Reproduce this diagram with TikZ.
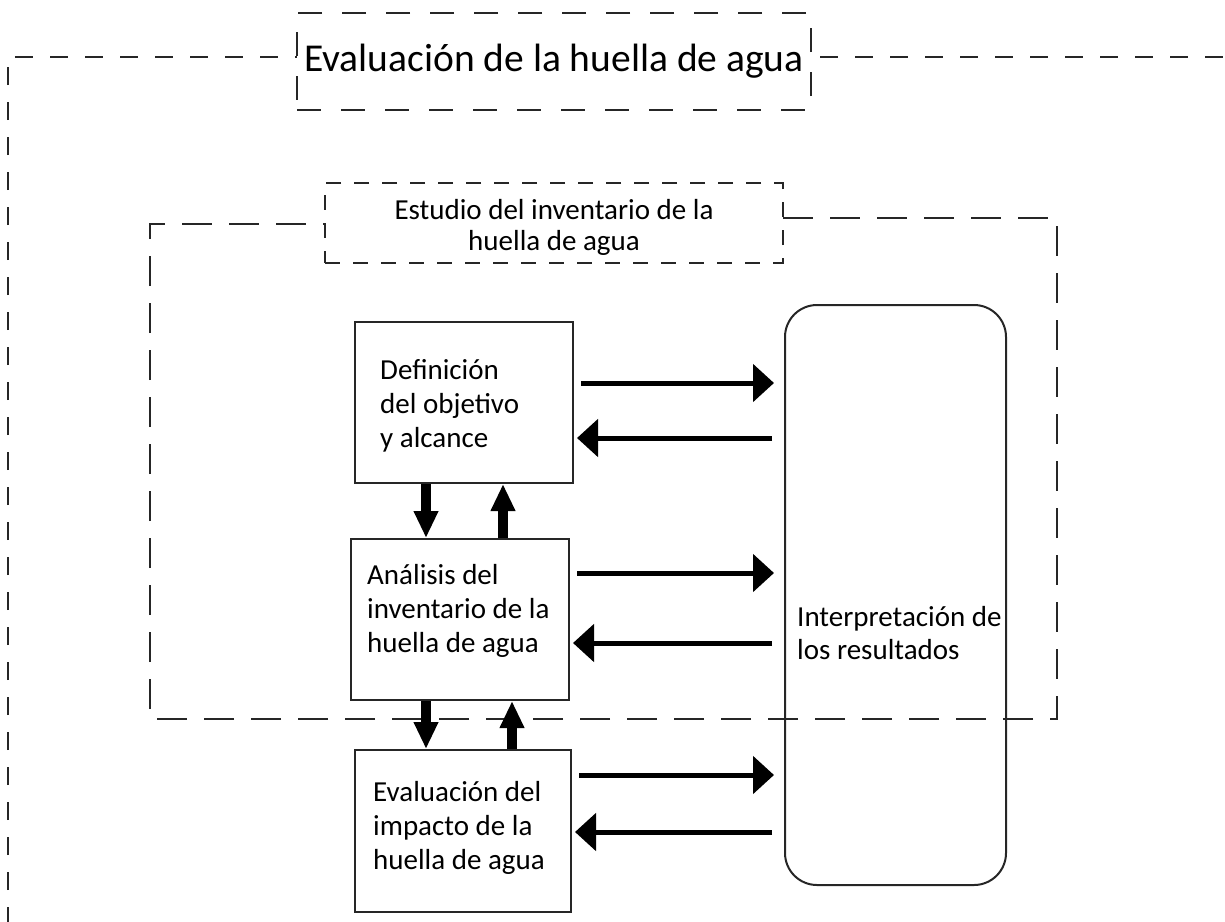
\documentclass[tikz,border=0pt]{standalone}
\usepackage{fontspec}
\setmainfont{Carlito}
\usetikzlibrary{arrows.meta,calc}
\begin{document}
\begin{tikzpicture}[x=1pt,y=-1pt,
  outerdash/.style={draw=black!85,line width=1.5pt,dash pattern=on 18pt off 17pt},
  innerdash/.style={draw=black!85,line width=1.5pt,dash pattern=on 30pt off 17pt},
  labeldash/.style={draw=black!85,line width=1.5pt,dash pattern=on 15pt off 13pt,fill=white},
  titledash/.style={draw=black!85,line width=1.5pt,dash pattern=on 24pt off 20pt,fill=white},
  stagebox/.style={draw=black!85,line width=2pt,rectangle,inner sep=0pt},
  stagetext/.style={anchor=west,align=left,inner sep=0pt,font=\fontsize{29}{34}\selectfont},
  harrow/.style={line width=5pt,-{Triangle[width=37pt,length=21pt]}},
  varrow/.style={line width=10pt,-{Triangle[width=23pt,length=27pt]}}
]
\useasboundingbox (0,0) rectangle (1225,921);
% outer frame
\coordinate (outbl) at (8,925);
\coordinate (outtl) at (8,57);
\coordinate (outtr) at (1228,57);
\draw[outerdash] (outbl) -- (outtl) -- (outtr);
\node[titledash,minimum width=514pt,minimum height=97pt,inner sep=0pt,
  font=\fontsize{39.5}{44}\selectfont] (title) at (554,61.5) {Evaluación de la huella de agua};
% inner frame
\coordinate (inA) at (783,218);
\coordinate (inB) at (1057,218);
\coordinate (inC) at (1057,719);
\coordinate (inD) at (150,719);
\coordinate (inE) at (150,224);
\coordinate (inF) at (325,224);
\draw[innerdash] (inA) -- (inB) -- (inC) -- (inD) -- (inE) -- (inF);
\node[labeldash,minimum width=458pt,minimum height=80pt,inner sep=0pt] (study) at (554,223) {};
\node[align=center,inner sep=0pt,font=\fontsize{29}{31}\selectfont] (studytext) at (554,227.5)
  {Estudio del inventario de la\\huella de agua};
% stage boxes
\node[stagebox,minimum width=218pt,minimum height=161pt] (b1) at (464,402.5) {};
\node[stagetext] (b1text) at (380,406) {Definición\\del objetivo\\y alcance};
\node[stagebox,minimum width=218pt,minimum height=161pt] (b2) at (460,619.5) {};
\node[stagetext] (b2text) at (367,611) {Análisis del\\inventario de la\\huella de agua};
\node[stagebox,minimum width=216pt,minimum height=162pt] (b3) at (463,831) {};
\node[stagetext] (b3text) at (373,828) {Evaluación del\\impacto de la\\huella de agua};
\node[draw=black!85,line width=2pt,rounded corners=32pt,minimum width=221pt,minimum height=580pt,inner sep=0pt] (interp) at (895.5,595) {};
\node[anchor=west,align=left,inner sep=0pt,font=\fontsize{29}{33}\selectfont] (interptext) at (797,633.5)
  {Interpretación de\\los resultados};
% horizontal arrows
\foreach \src/\yr/\yl in {b1/383/438, b2/573/643, b3/775/832}{
  \draw[harrow] ($(\src.east|-0,\yr)+(7,0)$) -- ($(interp.west|-0,\yr)+(-10,0)$);
  \draw[harrow] ($(interp.west|-0,\yl)+(-12,0)$) -- ($(\src.east|-0,\yl)+(3,0)$);
}
% vertical arrows
\draw[varrow] (b1.south-|426,0) -- (b2.north-|426,0);
\draw[varrow] (b2.north-|503,0) -- (b1.south-|503,0);
\draw[varrow] (b2.south-|426,0) -- (b3.north-|426,0);
\draw[varrow] (b3.north-|512,0) -- (b2.south-|512,0);
\end{tikzpicture}
\end{document}
